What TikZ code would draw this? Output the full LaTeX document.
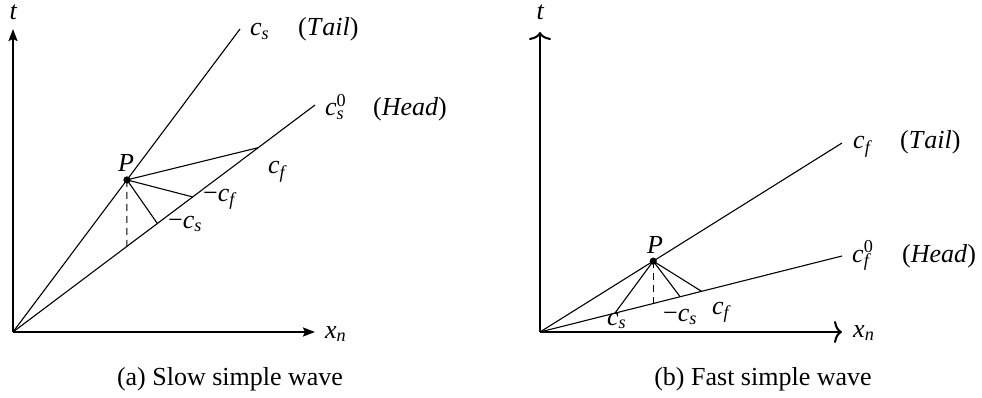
\documentclass[tikz,border=0pt]{standalone}
\usepackage{fontspec}
\setmainfont{Liberation Serif}
\usetikzlibrary{arrows.meta,calc}
\newcommand{\lbl}[2]{\textit{#1}\textsubscript{\textit{#2}}}
\newcommand{\lblz}[2]{\textit{#1}\rlap{\textsuperscript{0}}\textsubscript{\textit{#2}}}
\begin{document}
\begin{tikzpicture}[x=1pt,y=-1pt,
  font=\fontsize{26pt}{30pt}\selectfont,
  lab/.style={anchor=base west,inner sep=0pt},
  axisa/.style={line width=2pt,-{Stealth[length=12pt,width=9pt,inset=2pt]}},
  axisb/.style={line width=2pt,-{To[length=8pt,width=22pt]}},
  ray/.style={line width=1.1pt},
  dashline/.style={line width=1.1pt,dash pattern=on 7pt off 5pt}]
\useasboundingbox (0,0) rectangle (982,398);
% ---------- panel (a)
\coordinate (Oa) at (13,332);
\coordinate (Ya) at (13,29);
\coordinate (Xa) at (315,332);
\coordinate (Ta) at (240,29);
\coordinate (Ha) at (315,105);
\coordinate (Pa) at ($(Oa)!0.502!(Ta)$);
\coordinate (Da) at ($(Oa)!0.377!(Ha)$);
\coordinate (Sa) at ($(Oa)!0.478!(Ha)$);
\coordinate (Fa) at ($(Oa)!0.595!(Ha)$);
\coordinate (Ca) at ($(Oa)!0.812!(Ha)$);
\draw[axisa] (Oa) -- (Ya);
\draw[axisa] (Oa) -- (Xa);
\draw[ray] (Oa) -- (Ta);
\draw[ray] (Oa) -- (Ha);
\draw[ray] (Pa) -- (Ca);
\draw[ray] (Pa) -- (Fa);
\draw[ray] (Pa) -- (Sa);
\draw[dashline] (Pa) -- (Da);
\fill (Pa) circle[radius=3.6pt];
\node[lab] (ta) at (9.5,20) {\textit{t}};
\node[lab] (xa) at (325,338) {\lbl{x}{n}};
\node[lab] (la1) at (250,36) {\lbl{c}{s}};
\node[lab] (la2) at (298,36) {(\textit{T\kern1pt ail})};
\node[lab] (la3) at (325,116) {\lblz{c}{s}};
\node[lab] (la4) at (373,116) {(\textit{Head})};
\node[lab] (lPa) at (118,172) {\textit{P}};
\node[lab] (la5) at (268,174) {\lbl{c}{f}};
\node[lab] (la6) at (203,201) {−\lbl{c}{f}};
\node[lab] (la7) at (168,228) {−\lbl{c}{s}};
\node[anchor=base,inner sep=0pt] (capa) at (230,385) {(a) Slow simple wave};
% ---------- panel (b)
\coordinate (Ob) at (540,332);
\coordinate (Yb) at (540,32);
\coordinate (Xb) at (842,332);
\coordinate (Tb) at (842,143);
\coordinate (Hb) at (842,256);
\coordinate (Pb) at ($(Ob)!0.375!(Tb)$);
\coordinate (Db) at ($(Ob)!0.375!(Hb)$);
\coordinate (Sb) at ($(Ob)!0.248!(Hb)$);
\coordinate (Mb) at ($(Ob)!0.464!(Hb)$);
\coordinate (Cb) at ($(Ob)!0.535!(Hb)$);
\draw[axisb] (Ob) -- (Yb);
\draw[axisb] (Ob) -- (Xb);
\draw[ray] (Ob) -- (Tb);
\draw[ray] (Ob) -- (Hb);
\draw[ray] (Pb) -- (Sb);
\draw[ray] (Pb) -- (Mb);
\draw[ray] (Pb) -- (Cb);
\draw[dashline] (Pb) -- (Db);
\fill (Pb) circle[radius=3.6pt];
\node[lab] (tb) at (536.5,20) {\textit{t}};
\node[lab] (xb) at (853,337) {\lbl{x}{n}};
\node[lab] (lb1) at (853,149) {\lbl{c}{f}};
\node[lab] (lb2) at (900,149) {(\textit{T\kern1pt ail})};
\node[lab] (lb3) at (852,262) {\lblz{c}{f}};
\node[lab] (lb4) at (902,262) {(\textit{Head})};
\node[lab] (lPb) at (647,253) {\textit{P}};
\node[lab] (lb5) at (607,325) {\lbl{c}{s}};
\node[lab] (lb6) at (663,321) {−\lbl{c}{s}};
\node[lab] (lb7) at (712,314) {\lbl{c}{f}};
\node[anchor=base,inner sep=0pt] (capb) at (763,385) {(b) Fast simple wave};
\end{tikzpicture}
\end{document}
